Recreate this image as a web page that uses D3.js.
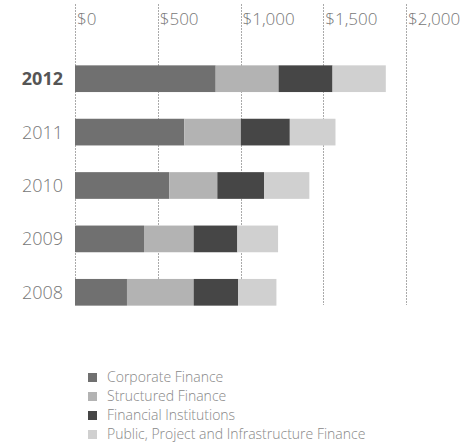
<!DOCTYPE html>
<html>
<head>
<meta charset="utf-8">
<script src="https://cdn.jsdelivr.net/npm/d3@7"></script>
<style>
  body { margin: 0; background: #fff; }
  svg { font-family: "Open Sans", sans-serif; }
</style>
</head>
<body>
<svg width="468" height="444"></svg>
<script>
const years = ["2012", "2011", "2010", "2009", "2008"];
const series = ["Corporate Finance", "Structured Finance", "Financial Institutions", "Public, Project and Infrastructure Finance"];
const corporate = [850, 660, 570, 417, 314];
const structured = [380, 342, 290, 300, 403];
const institutions = [326, 296, 282, 264, 268];
const publicFinance = [322, 276, 274, 246, 232];
const ticks = [0, 500, 1000, 1500, 2000];
const colors = ["#707070", "#b3b3b3", "#464646", "#d0d0d0"];

const svg = d3.select("svg");

const x = d3.scaleLinear()
  .domain([0, 2000])
  .range([75, 406]);

const y = d3.scaleBand()
  .domain(years)
  .range([52, 319])
  .paddingInner(0.5)
  .paddingOuter(0.25);

// gridlines + top labels
const grid = svg.append("g");
grid.selectAll("line")
  .data(ticks)
  .enter().append("line")
  .attr("x1", d => Math.round(x(d)) + 0.5)
  .attr("x2", d => Math.round(x(d)) + 0.5)
  .attr("y1", 4)
  .attr("y2", 305)
  .attr("stroke", "#aaa")
  .attr("stroke-width", 1)
  .attr("stroke-dasharray", "2,1");

grid.selectAll("text")
  .data(ticks)
  .enter().append("text")
  .attr("x", d => x(d) + 2)
  .attr("y", 25)
  .attr("fill", "#777")
  .style("font-size", "17px")
  .style("font-weight", 300)
  .text(d => "$" + d3.format(",")(d));

// stacked bars
const table = years.map((yr, i) => ({
  year: yr,
  "Corporate Finance": corporate[i],
  "Structured Finance": structured[i],
  "Financial Institutions": institutions[i],
  "Public, Project and Infrastructure Finance": publicFinance[i]
}));

const stacked = d3.stack().keys(series)(table);

svg.append("g")
  .selectAll("g")
  .data(stacked)
  .enter().append("g")
  .attr("fill", (d, i) => colors[i])
  .selectAll("rect")
  .data(d => d)
  .enter().append("rect")
  .attr("x", d => x(d[0]))
  .attr("width", d => x(d[1]) - x(d[0]))
  .attr("y", d => y(d.data.year))
  .attr("height", y.bandwidth());

// year labels
svg.append("g")
  .selectAll("text")
  .data(years)
  .enter().append("text")
  .attr("x", 63)
  .attr("y", d => y(d) + y.bandwidth() / 2)
  .attr("dy", "0.36em")
  .attr("text-anchor", "end")
  .attr("fill", (d, i) => i === 0 ? "#555" : "#777")
  .style("font-size", "18px")
  .style("font-weight", (d, i) => i === 0 ? 700 : 300)
  .text(d => d);

// legend
const legend = svg.append("g")
  .selectAll("g")
  .data(series)
  .enter().append("g")
  .attr("transform", (d, i) => `translate(88,${377 + i * 19})`);

legend.append("rect")
  .attr("x", 0)
  .attr("y", -4)
  .attr("width", 9)
  .attr("height", 9)
  .attr("fill", (d, i) => colors[i]);

legend.append("text")
  .attr("x", 19)
  .attr("dy", "0.35em")
  .attr("fill", "#888")
  .style("font-size", "14px")
  .style("font-weight", 300)
  .text(d => d);
</script>
</body>
</html>
